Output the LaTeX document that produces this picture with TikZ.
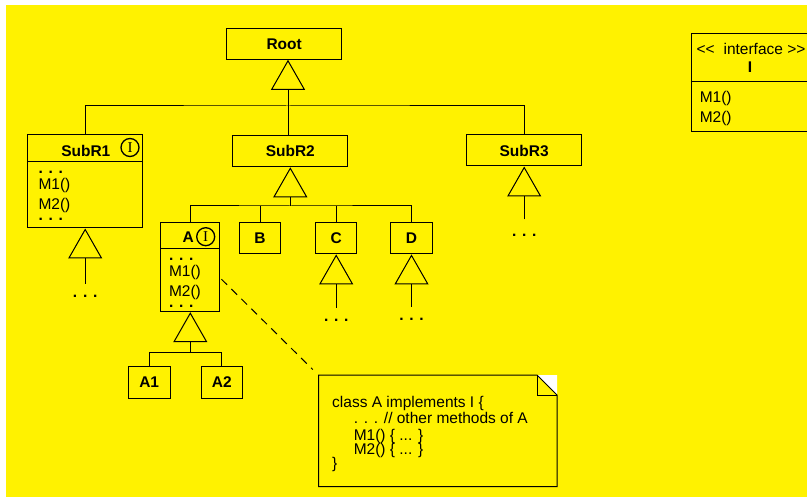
\documentclass[tikz,border=0pt]{standalone}
\usepackage{fontspec}
\setmainfont{Liberation Sans}
\newfontfamily\markfont{Liberation Serif}
\usetikzlibrary{arrows.meta}

\newcommand{\umlsize}{\fontsize{15.5}{18}\selectfont}

\begin{document}
\begin{tikzpicture}[x=1pt, y=-1pt, line width=1pt, font=\umlsize]
  \tikzset{cls/.style={rectangle, draw, inner sep=0pt, font=\umlsize\bfseries}}
  \tikzset{clsname/.style={inner sep=0pt, font=\umlsize\bfseries}}
  \tikzset{ifmark/.style={circle, draw, line width=1.3pt, inner sep=0pt, minimum size=18pt, font=\markfont\fontsize{15}{15}\selectfont}}
  \tikzset{ops/.style={anchor=north west, align=left, inner sep=0pt}}
  \tikzset{more/.style={inner sep=0pt, font=\umlsize\bfseries}}
  \tikzset{gen/.style={-{Triangle[open, length=30pt, width=34pt]}}}
  \tikzset{notelink/.style={dash pattern=on 8pt off 6pt, shorten >=8pt}}

  \useasboundingbox (0,0) rectangle (807,497);
  \clip (0,0) rectangle (807,497);
  \fill[yellow] (6,5) rectangle (807,497);

  % root and its subclasses
  \node[cls, minimum width=115pt, minimum height=31pt] (Root) at (284.2,43.8) {Root};
  \node[cls, minimum width=115pt, minimum height=93pt] (SubR1) at (85.2,181.5) {};
  \node[cls, minimum width=115pt, minimum height=31pt] (SubR2) at (290.3,151.3) {SubR2};
  \node[cls, minimum width=115pt, minimum height=31pt] (SubR3) at (524.2,150.5) {SubR3};

  \draw ([yshift=-26.7pt]SubR1.north west) -- ([yshift=-26.7pt]SubR1.north east);
  \node[clsname] (SubR1name) at (85.8,150.5) {SubR1};
  \node[ifmark] (SubR1mark) at (130,147.5) {I};
  \node[ops] (SubR1ops) at (38,170.4) {\textbf{. . .}\\[-2pt]M1()\\[2pt]M2()\\[-7pt]\textbf{. . .}};

  \coordinate (busR) at (288,106);
  \draw (SubR1.north) |- (busR) -| (SubR3.north);
  \draw (busR) -- (busR |- SubR2.north);
  \draw[gen] (busR) -- (busR |- Root.south);

  \coordinate (SubR1tail) at (85.2,284);
  \draw[gen] (SubR1tail) -- (SubR1.south);
  \node[more] (SubR1more) at (85.2,296.7) {. . .};

  \coordinate (SubR3tail) at (524.2,219.3);
  \draw[gen] (SubR3tail) -- (SubR3.south);
  \node[more] (SubR3more) at (524.2,235.7) {. . .};

  % subclasses of SubR2
  \node[cls, minimum width=59.3pt, minimum height=89pt] (A) at (190.3,267.2) {};
  \node[cls, minimum width=41.4pt, minimum height=31.3pt] (B) at (260,238.3) {B};
  \node[cls, minimum width=41.4pt, minimum height=31.3pt] (C) at (336.2,238.3) {C};
  \node[cls, minimum width=41.4pt, minimum height=31.3pt] (D) at (411.5,238.3) {D};

  \draw ([yshift=-26.6pt]A.north west) -- ([yshift=-26.6pt]A.north east);
  \node[clsname] (Aname) at (188.3,237.5) {A};
  \node[ifmark] (Amark) at (205.7,236.7) {I};
  \node[ops] (Aops) at (168.5,257.4) {\textbf{. . .}\\[-2pt]M1()\\[2pt]M2()\\[-7pt]\textbf{. . .}};

  \coordinate (busS) at (290.3,206);
  \draw (A.north) |- (busS) -| (D.north);
  \draw (B.north) -- (B.north |- busS);
  \draw (C.north) -- (C.north |- busS);
  \draw[gen] (busS) -- (SubR2.south);

  \coordinate (Ctail) at (336.2,308);
  \draw[gen] (Ctail) -- (C.south);
  \node[more] (Cmore) at (336.2,320.7) {. . .};
  \coordinate (Dtail) at (411.5,307);
  \draw[gen] (Dtail) -- (D.south);
  \node[more] (Dmore) at (411.5,319.3) {. . .};

  % subclasses of A
  \node[cls, minimum width=41.7pt, minimum height=31.6pt] (A1) at (149.2,382.5) {A1};
  \node[cls, minimum width=41.7pt, minimum height=31.6pt] (A2) at (221.9,382.5) {A2};
  \coordinate (busA) at (190.3,352.3);
  \draw (A1.north) |- (busA) -| (A2.north);
  \draw[gen] (busA) -- (A.south);

  % note on A
  \node[minimum width=237.7pt, minimum height=110.3pt, inner sep=0pt] (note) at (437.85,430.85) {};
  \fill[white] ([xshift=-20pt]note.north east) -- (note.north east) -- ([yshift=-20pt]note.north east) -- cycle;
  \draw (note.north west) -- ([xshift=-20pt]note.north east) -- ([yshift=-20pt]note.north east)
    -- (note.south east) -- (note.south west) -- cycle;
  \draw ([xshift=-20pt]note.north east) |- ([yshift=-20pt]note.north east);
  \node[ops] (noteText) at (331.7,395.3) {class A implements I \{\\[-2pt]
    \hspace*{21.6pt}. . . // other methods of A\\[-0.7pt]
    \hspace*{21.6pt}M1() \{ ... \}\\[-4pt]
    \hspace*{21.6pt}M2() \{ ... \}\\[-4pt]
    \}};
  \draw[notelink] ([xshift=1pt,yshift=-12pt]A.east) -- (note.north west);

  % interface I
  \node[rectangle, draw, minimum width=139pt, minimum height=98.4pt, inner sep=0pt] (I) at (760.5,82.5) {};
  \draw ([yshift=-48.4pt]I.north west) -- ([yshift=-48.4pt]I.north east);
  \node[anchor=base west, inner sep=0pt] (Istereo) at (696,55)
    {\textless\kern0pt\textless\hspace{9pt}interface \textgreater\kern0pt\textgreater};
  \node[clsname] (Iname) at (750,67.5) {I};
  \node[ops] (Iops) at (699.3,91.2) {M1()\\[1.5pt]M2()};
\end{tikzpicture}
\end{document}
